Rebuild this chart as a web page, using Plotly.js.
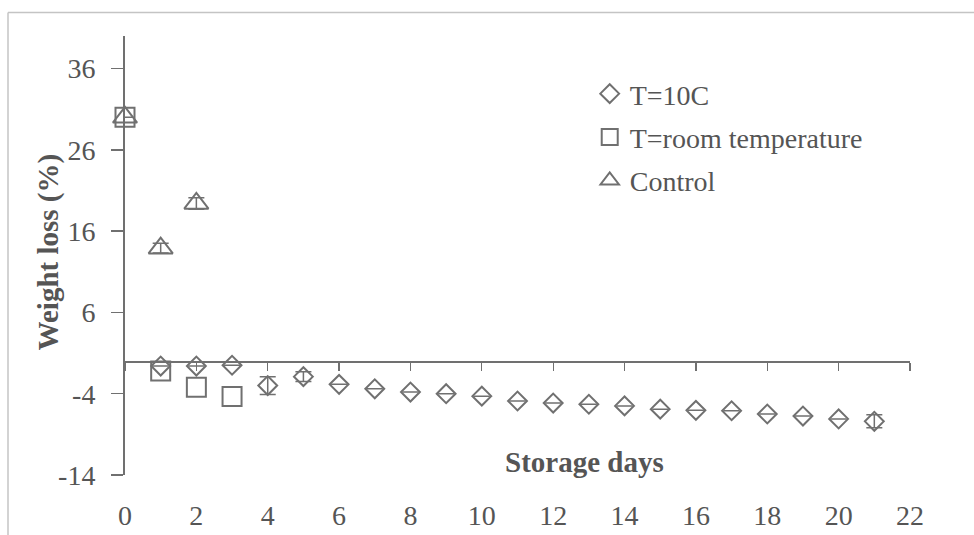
<!DOCTYPE html>
<html>
<head>
<meta charset="utf-8">
<script src="https://cdn.plot.ly/plotly-3.0.1.min.js"></script>
<style>html,body{margin:0;padding:0;background:#fff;}#chart{width:974px;height:535px;}</style>
</head>
<body>
<div id="chart"></div>
<script>
// ---- data ----
const daysCold = [1,2,3,4,5,6,7,8,9,10,11,12,13,14,15,16,17,18,19,20,21];
const lossCold = [-0.6,-0.6,-0.5,-3.0,-1.9,-2.85,-3.4,-3.8,-4.0,-4.3,-4.9,-5.15,-5.3,-5.5,-5.9,-6.05,-6.1,-6.5,-6.75,-7.1,-7.4];
const errCold  = [null,null,null,1.1,0.6,null,null,null,null,null,null,null,null,null,null,null,null,null,null,null,0.8];
const daysRoom = [0,1,2,3];
const lossRoom = [30,-1.2,-3.2,-4.35];
const daysCtrl = [0,1,2];
const lossCtrl = [30,13.9,19.4];
const errCtrl  = [null,0.6,0.7];
const seriesNames = ["T=10C","T=room temperature","Control"];
const xTickVals = [0,2,4,6,8,10,12,14,16,18,20,22];
const xTickText = ["0","2","4","6","8","10","12","14","16","18","20","22"];
const yTickVals = [-14,-4,6,16,26,36];
const yTickText = ["-14","-4","6","16","26","36"];
const xTitle = "Storage days";
const yTitle = "Weight loss (%)";

const grey = "#707070";
const textGrey = "#555555";
const font = "Liberation Serif, Times New Roman, serif";
const yRange = [-14, 40];
const xRange = [0, 22];

function errBar(arr){
  return {type:"data", array:arr, visible:true, color:grey, thickness:1.5, width:8};
}

const traces = [
  {x:daysCold, y:lossCold, name:seriesNames[0], type:"scatter", mode:"markers", cliponaxis:false,
   legendgroup:"a", error_y:errBar(errCold),
   marker:{symbol:"diamond-open", size:14.5, color:grey, line:{width:2, color:grey}}},
  {x:daysRoom, y:lossRoom, name:seriesNames[1], type:"scatter", mode:"markers", cliponaxis:false,
   legendgroup:"b",
   marker:{symbol:"square-open", size:19, color:grey, line:{width:2, color:grey}}},
  {x:daysCtrl, y:lossCtrl, name:seriesNames[2], type:"scatter", mode:"markers", cliponaxis:false,
   legendgroup:"c", error_y:errBar(errCtrl),
   marker:{symbol:"triangle-up-open", size:21, color:grey, line:{width:2, color:grey}}}
];

// chart-area border (top and left edges visible), in paper units
const px = v => (v - 125) / 785;
const py = v => (474.6 - v) / 439;

const layout = {
  width:974, height:535,
  margin:{l:125, r:64, t:35.5, b:60.4},
  paper_bgcolor:"#ffffff", plot_bgcolor:"rgba(0,0,0,0)",
  font:{family:font, color:textGrey, size:28},
  showlegend:true,
  legend:{x:0.592, y:0.925, xanchor:"left", yanchor:"top", bgcolor:"rgba(0,0,0,0)",
          font:{family:font, size:28, color:textGrey}, tracegroupgap:4},
  xaxis:{range:xRange, tickvals:xTickVals, ticktext:xTickText, showline:false, zeroline:false, showgrid:false,
         ticks:"", ticklabelstandoff:21, tickfont:{size:28, color:textGrey, family:font}},
  xaxis2:{range:xRange, tickvals:xTickVals, overlaying:"x", anchor:"free",
          position:(0 - yRange[0])/(yRange[1]-yRange[0]), side:"bottom",
          showline:true, linecolor:grey, linewidth:1.5, zeroline:false, showgrid:false,
          ticks:"outside", ticklen:8, tickwidth:1.2, tickcolor:grey, showticklabels:false},
  yaxis:{range:yRange, tickvals:yTickVals, ticktext:yTickText, showline:true, linecolor:grey, linewidth:2,
         zeroline:false, showgrid:false, ticks:"outside", ticklen:12, tickwidth:1.5, tickcolor:grey,
         ticklabelstandoff:10, tickfont:{size:28, color:textGrey, family:font}},
  annotations:[
    {text:"<b>" + xTitle + "</b>", xref:"paper", yref:"paper", x:px(584), y:py(462),
     xanchor:"center", yanchor:"middle", showarrow:false, font:{family:font, size:29, color:textGrey}},
    {text:"<b>" + yTitle + "</b>", xref:"paper", yref:"paper", x:px(48), y:py(252), textangle:-90,
     xanchor:"center", yanchor:"middle", showarrow:false, font:{family:font, size:29, color:textGrey}}
  ],
  shapes:[
    {type:"line", xref:"paper", yref:"paper", x0:px(8), x1:px(974), y0:py(12), y1:py(12),
     line:{color:"#c4c4c4", width:1.5}},
    {type:"line", xref:"paper", yref:"paper", x0:px(8), x1:px(8), y0:py(12), y1:py(535),
     line:{color:"#c4c4c4", width:1.5}}
  ]
};

// invisible point keeps xaxis2 active
traces.push({x:[xRange[0]], y:[yRange[0]], xaxis:"x2", yaxis:"y", type:"scatter", mode:"markers",
  marker:{opacity:0}, showlegend:false, hoverinfo:"skip"});

Plotly.newPlot("chart", traces, layout, {displayModeBar:false, staticPlot:true});
</script>
</body>
</html>
